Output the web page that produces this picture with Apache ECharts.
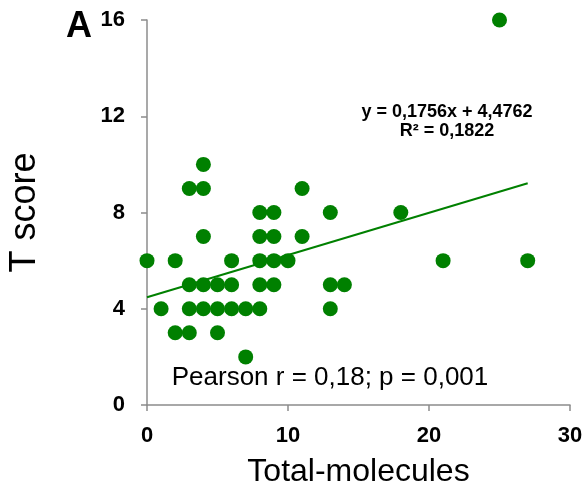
<!DOCTYPE html>
<html><head><meta charset="utf-8">
<script src="https://cdn.jsdelivr.net/npm/echarts@6/dist/echarts.min.js"></script>
<style>html,body{margin:0;padding:0;background:#fff}#c{width:587px;height:494px}</style>
</head><body><div id="c"></div>
<script>
const xValues = [4,3,4,11,8,9,13,4,8,9,11,0,2,6,8,9,10,3,4,5,6,8,9,13,14,1,3,4,5,6,7,8,13,2,3,5,7,25,18,21,27];
const yValues = [10,9,9,9,8,8,8,7,7,7,7,6,6,6,6,6,6,5,5,5,5,5,5,5,5,4,4,4,4,4,4,4,4,3,3,3,2,16,8,6,6];
const trendX = [0, 27];
const trendY = [4.4762, 9.2174];
const xTicks = [0, 10, 20, 30];
const yTicks = [0, 4, 8, 12, 16];

const pts = xValues.map((x, i) => [x, yValues[i]]);
const trend = trendX.map((x, i) => [x, trendY[i]]);
const green = '#008000';
const axisColor = '#8c8c8c';
const font = 'Liberation Sans, Arial, sans-serif';

const chart = echarts.init(document.getElementById('c'));
chart.setOption({
  animation: false,
  grid: { left: 147, right: 17, top: 20, bottom: 89, containLabel: false, outerBoundsMode: 'none' },
  xAxis: {
    type: 'value', min: xTicks[0], max: xTicks[xTicks.length - 1], interval: 10,
    splitLine: { show: false },
    axisLine: { show: true, lineStyle: { color: axisColor, width: 1.5 } },
    axisTick: { show: true, length: 6, lineStyle: { color: axisColor, width: 1.5 } },
    axisLabel: { color: '#000', fontSize: 22, fontWeight: 'bold', fontFamily: font, margin: 20 },
    name: 'Total-molecules', nameLocation: 'middle', nameGap: 51,
    nameTextStyle: { color: '#000', fontSize: 32, fontFamily: font }
  },
  yAxis: {
    type: 'value', min: yTicks[0], max: yTicks[yTicks.length - 1], interval: 4,
    splitLine: { show: false },
    axisLine: { show: true, lineStyle: { color: axisColor, width: 1.5 } },
    axisTick: { show: true, length: 6, lineStyle: { color: axisColor, width: 1.5 } },
    axisLabel: { color: '#000', fontSize: 22, fontWeight: 'bold', fontFamily: font, margin: 22 },
    name: 'T score', nameLocation: 'middle', nameGap: 104,
    nameTextStyle: { color: '#000', fontSize: 36, fontFamily: font }
  },
  series: [
    {
      type: 'line', data: trend, symbol: 'none', z: 3,
      lineStyle: { color: green, width: 2 }
    },
    {
      type: 'scatter', data: pts, symbolSize: 15, clip: false, z: 2,
      itemStyle: { color: green, opacity: 1 }
    }
  ],
  graphic: [
    { type: 'text', x: 79, y: 27, style: { text: 'A', fontSize: 36, fontWeight: 'bold', fontFamily: font, fill: '#000', align: 'center', verticalAlign: 'middle' } },
    { type: 'text', x: 447, y: 112, style: { text: 'y = 0,1756x + 4,4762', fontSize: 18, fontWeight: 'bold', fontFamily: font, fill: '#000', align: 'center', verticalAlign: 'middle' } },
    { type: 'text', x: 447, y: 131, style: { text: 'R² = 0,1822', fontSize: 18, fontWeight: 'bold', fontFamily: font, fill: '#000', align: 'center', verticalAlign: 'middle' } },
    { type: 'text', x: 330, y: 378, style: { text: 'Pearson r = 0,18; p = 0,001', fontSize: 26, fontFamily: font, fill: '#000', align: 'center', verticalAlign: 'middle' } }
  ]
});
</script></body></html>
